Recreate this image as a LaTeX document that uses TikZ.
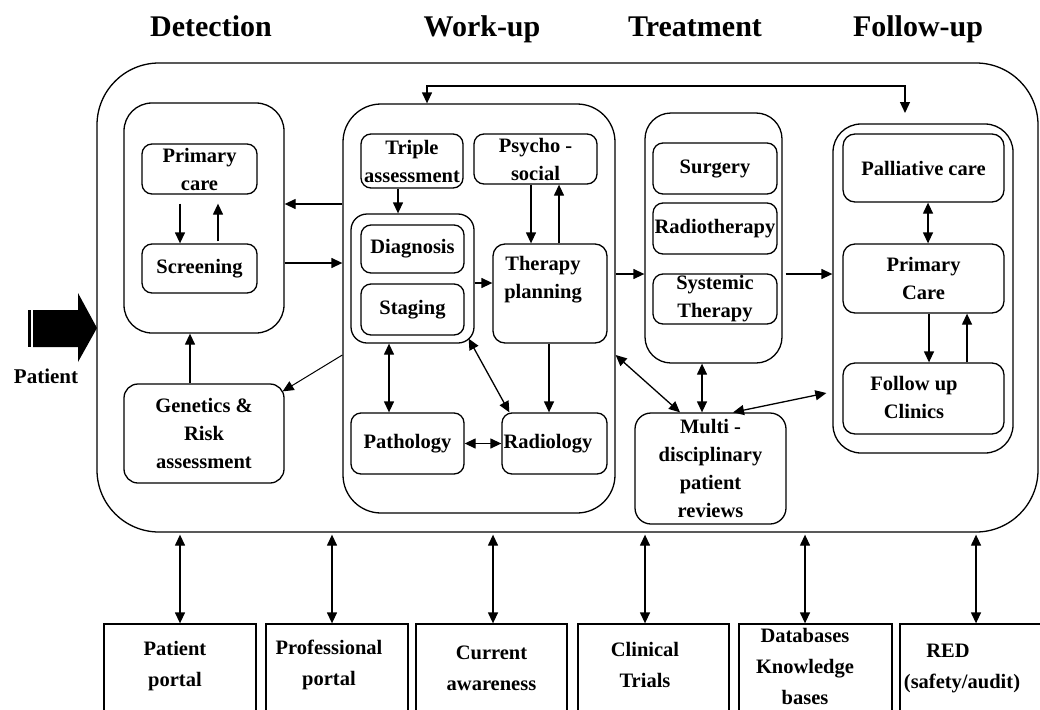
\documentclass[tikz,border=0pt]{standalone}
\usepackage{fontspec}
\setmainfont{Liberation Serif}
\usetikzlibrary{arrows.meta,calc}
\begin{document}
\begin{tikzpicture}[x=1pt,y=-1pt,
  bx/.style={draw, line width=1.3pt, rounded corners=#1, inner sep=0pt,
     font=\bfseries\fontsize{20.5}{28}\selectfont, align=center},
  bx/.default=10pt,
  sz/.style 2 args={minimum width=#1pt, minimum height=#2pt},
  bbox/.style={draw, line width=1.3pt, inner sep=0pt,
     font=\bfseries\fontsize{20.5}{31}\selectfont, align=center},
  txt/.style={inner sep=0pt, font=\bfseries\fontsize{20.5}{28}\selectfont, align=center},
  hdr/.style={inner sep=0pt, anchor=base, font=\bfseries\fontsize{30}{34}\selectfont},
  arr/.style={-{Triangle[length=11pt,width=10pt]}, line width=1.3pt},
  darr/.style={{Triangle[length=11pt,width=10pt]}-{Triangle[length=11pt,width=10pt]}, line width=1.3pt}
]
\useasboundingbox (0,0) rectangle (1040,709);
\clip (0,0) rectangle (1040,709);

% headers
\node[hdr] (hdet) at (211,37) {Detection};
\node[hdr] (hwu) at (482,37) {Work-up};
\node[hdr] (htr) at (695,37) {Treatment};
\node[hdr] (hfu) at (918,37) {Follow-up};

% outer frame
\node[bx=62pt, sz={941}{469}] (outer) at (567.5,297.5) {};

% patient arrow
\fill (28,310) rectangle (30.5,347);
\fill (33,310) -- (78,310) -- (78,293) -- (97,328) -- (78,362) -- (78,347) -- (33,347) -- cycle;
\node[txt, font=\bfseries\fontsize{21}{24}\selectfont] (patient) at (46,376) {Patient};

% detection
\node[bx=28pt, sz={160}{230}] (det) at (204,218) {};
\node[bx=10pt, sz={115}{50}] (pc) at (199.5,169) {Primary\\care};
\node[bx=10pt, sz={115}{49}] (scr) at (199.5,268.5) {Screening};
\node[bx=14pt, sz={160}{99}] (gen) at (204,433.5) {Genetics \&\\Risk\\assessment};

% work-up
\node[bx=38pt, sz={272}{409}] (wu) at (479,308.5) {};
\node[bx=10pt, sz={102}{54}] (tri) at (412,161) {Triple\\assessment};
\node[bx=10pt, sz={123}{50}] (psy) at (535.5,159) {Psycho -\\social};
\node[bx=16pt, sz={123}{129}] (grp) at (412.5,278.5) {};
\node[bx=10pt, sz={103}{48}] (diag) at (412.5,249) {Diagnosis};
\node[bx=10pt, sz={103}{51}] (stag) at (412.5,309.5) {Staging};
\node[bx=12pt, sz={114}{99}] (tp) at (550,293.5) {};
\node[txt] (tpt) at (543,280) {Therapy\\planning};
\node[bx=10pt, sz={113}{61}] (path) at (407.5,443.5) {Pathology};
\node[bx=10pt, sz={105}{61}] (rad) at (554.5,443.5) {};
\node[txt] (radt) at (548,443.5) {Radiology};

% treatment
\node[bx=26pt, sz={137}{250}] (tr) at (713.5,238) {};
\node[bx=10pt, sz={124}{51}] (surg) at (715,168.5) {Surgery};
\node[bx=10pt, sz={124}{51}] (radt2) at (715,228.5) {Radiotherapy};
\node[bx=10pt, sz={124}{50}] (sys) at (715,299) {Systemic\\Therapy};
\node[bx=16pt, sz={151}{111}] (multi) at (710.5,468.5) {Multi -\\disciplinary\\patient\\reviews};

% follow-up
\node[bx=28pt, sz={180}{329}] (fu) at (923,288.5) {};
\node[bx=12pt, sz={161}{68}] (pal) at (923.5,168) {Palliative care};
\node[bx=12pt, sz={161}{69}] (pcare) at (923.5,278.5) {Primary\\Care};
\node[bx=12pt, sz={161}{71}] (fuc) at (923.5,398.5) {};
\node[txt] (fuct) at (914,397) {Follow up\\Clinics};

% bottom boxes
\node[bbox, sz={152}{88}] (pp) at (180,668) {};
\node[txt, font=\bfseries\fontsize{20.5}{31}\selectfont] (ppt) at (175,666.5) {Patient\\portal};
\node[bbox, sz={142}{88}] (prof) at (337,668) {};
\node[txt, font=\bfseries\fontsize{20.5}{31}\selectfont] (proft) at (329,665) {Professional\\portal};
\node[bbox, sz={151}{88}] (cur) at (491.5,668) {Current\\awareness};
\node[bbox, sz={151}{88}] (cli) at (653.5,668) {};
\node[txt, font=\bfseries\fontsize{20.5}{31}\selectfont] (clit) at (645,664.5) {Clinical\\Trials};
\node[bbox, sz={153}{88}] (db) at (815.5,668) {};
\node[txt, font=\bfseries\fontsize{20.5}{31}\selectfont] (dbt) at (805,666) {Databases\\Knowledge\\bases};
\node[bbox, sz={150}{88}] (red) at (975,668) {};
\node[txt] (redt1) at (948,651) {RED};
\node[txt] (redt2) at (962,683) {(safety/audit)};

% detection arrows
\draw[arr] ([xshift=-19.5pt,yshift=-9pt]pc.south) -- ([xshift=-19.5pt]scr.north);
\draw[arr] ([xshift=18.5pt,yshift=2pt]scr.north) -- ([xshift=18.5pt,yshift=-9pt]pc.south);
\draw[arr] ([xshift=-14pt]gen.north) -- ([xshift=-14pt]det.south);
\draw[arr] (wu.west |- 0,204) -- (det.east |- 0,204);
\draw[arr] (det.east |- 0,263) -- (wu.west |- 0,263);
\draw[arr, line width=1pt] (wu.west |- 0,355) -- ([xshift=-2pt,yshift=-8pt]gen.north east);

% top loop
\coordinate (futop) at (905,113);
\draw[darr] (wu.north -| 427,0) |- (905,86) -- (futop);

% work-up arrows
\draw[arr] (tri.south -| 398,0) -- (grp.north -| 398,0);
\draw[arr] (psy.south -| 531,0) -- (tp.north -| 531,0);
\draw[arr] (tp.north -| 559,0) -- (psy.south -| 559,0);
\draw[arr] (grp.east |- 0,283) -- (tp.west |- 0,283);
\draw[darr] (grp.south -| 389,0) -- (path.north -| 389,0);
\draw[darr] (path.east) -- (rad.west);
\draw[arr] (tp.south -| 549,0) -- (rad.north -| 549,0);
\draw[darr] ([xshift=-6pt,yshift=5pt]grp.south east) -- ([xshift=8pt]rad.north west);
\draw[darr] (wu.east |- 0,355) -- (multi.north -| 680,0);

% treatment / follow-up arrows
\draw[arr] (wu.east |- 0,274) -- (tr.west |- 0,274);
\draw[arr] ([xshift=3pt]tr.east |- 0,274) -- (fu.west |- 0,274);
\draw[darr] (tr.south -| 702,0) -- (multi.north -| 702,0);
\draw[darr] (multi.north -| 733,0) -- ([xshift=-6pt]fu.west |- 0,393);
\draw[darr] (pal.south -| 928,0) -- (pcare.north -| 928,0);
\draw[arr] (pcare.south -| 929,0) -- (fuc.north -| 929,0);
\draw[arr] (fuc.north -| 967,0) -- (pcare.south -| 967,0);

% bottom arrows
\foreach \n/\xx in {pp/180, prof/332, cur/493, cli/645, db/805, red/976}{
  \draw[darr, shorten <=2pt] (outer.south -| \xx,0) -- (\n.north -| \xx,0);
}
\end{tikzpicture}
\end{document}
